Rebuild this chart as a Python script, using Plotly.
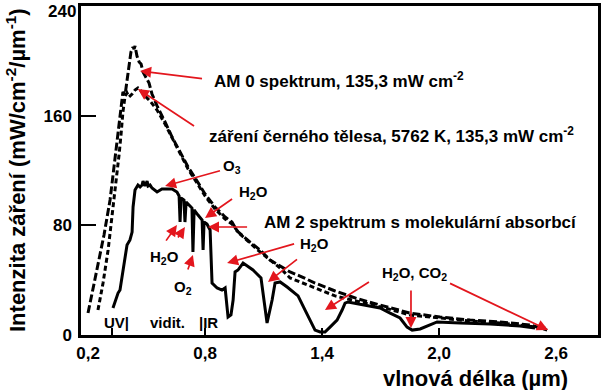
import plotly.graph_objects as go

# ---------------- data (wavelength in µm, intensity in mW/cm^2/µm) ----------------
am0_wl = [0.200, 0.241, 0.282, 0.313, 0.338, 0.359, 0.374, 0.379, 0.390, 0.400, 0.410, 0.420,
          0.431, 0.436, 0.441, 0.451, 0.462, 0.472, 0.482, 0.497, 0.513, 0.528, 0.554, 0.595,
          0.631, 0.672, 0.713, 0.759, 0.800, 0.851, 0.903, 0.938, 0.964, 1.031, 1.082, 1.133,
          1.185, 1.236, 1.287, 1.364, 1.467, 1.585, 1.697, 1.851, 2.005, 2.159, 2.313, 2.467, 2.554]
am0_val = [16.0, 43.8, 73.0, 98.5, 127.7, 153.2, 171.4, 177.3, 175.1, 186.0, 199.2, 206.4,
           210.1, 208.6, 210.8, 203.5, 199.2, 197.7, 191.9, 187.5, 183.8, 175.8, 167.1, 155.4,
           144.4, 133.5, 122.6, 112.3, 102.9, 93.4, 86.1, 82.4, 75.9, 67.8, 62.0, 54.7,
           50.3, 46.0, 43.0, 37.9, 32.1, 26.3, 21.9, 16.0, 13.1, 10.9, 9.5, 7.3, 3.6]

bb_wl = [0.251, 0.277, 0.303, 0.323, 0.344, 0.359, 0.369, 0.379, 0.390, 0.400, 0.410, 0.426,
         0.441, 0.456, 0.472, 0.492, 0.518, 0.554, 0.595, 0.631, 0.672, 0.713, 0.759, 0.800,
         0.851, 0.903, 0.938, 0.979, 1.082, 1.185, 1.236, 1.338, 1.467, 1.595, 1.723, 1.851,
         2.005, 2.159, 2.313, 2.467, 2.544]
bb_val = [18.2, 37.9, 62.0, 85.4, 111.6, 131.3, 145.9, 162.7, 174.4, 176.5, 173.6, 175.8,
          178.7, 180.2, 178.0, 174.4, 170.7, 164.1, 153.9, 143.7, 132.0, 121.1, 110.9, 101.4,
          91.9, 84.6, 81.0, 73.7, 60.6, 48.9, 41.6, 35.7, 28.5, 24.1, 19.7, 14.6,
          12.4, 10.2, 8.8, 6.6, 5.1]

am2_wl = [0.328, 0.354, 0.364, 0.390, 0.400, 0.415, 0.426, 0.431, 0.441, 0.456, 0.467, 0.477,
          0.482, 0.492, 0.503, 0.508, 0.518, 0.528, 0.544, 0.554, 0.579, 0.631, 0.656, 0.667,
          0.672, 0.677, 0.692, 0.697, 0.703, 0.718, 0.733, 0.738, 0.744, 0.764, 0.785, 0.790,
          0.795, 0.810, 0.826, 0.836, 0.862, 0.887, 0.903, 0.918, 0.933, 0.944, 0.954, 0.969,
          0.995, 1.046, 1.072, 1.087, 1.118, 1.144, 1.159, 1.185, 1.221, 1.251, 1.277, 1.313,
          1.364, 1.390, 1.415, 1.441, 1.477, 1.503, 1.518, 1.533, 1.610, 1.697, 1.749, 1.800,
          1.836, 1.862, 1.903, 1.990, 2.108, 2.262, 2.415, 2.492]
am2_val = [19.7, 30.6, 32.8, 56.2, 65.7, 69.3, 75.1, 93.4, 105.8, 109.4, 108.0, 109.4,
           112.3, 108.7, 112.3, 108.7, 109.4, 107.2, 105.8, 104.3, 106.5, 106.5, 104.3, 101.4,
           82.4, 100.0, 98.5, 82.4, 97.0, 94.8, 92.6, 60.6, 91.2, 87.5, 83.9, 62.0,
           82.4, 81.0, 76.6, 37.9, 34.3, 32.8, 34.3, 13.1, 14.6, 25.5, 46.0, 47.4,
           52.5, 47.4, 43.8, 41.6, 8.8, 25.5, 37.9, 38.7, 35.0, 31.4, 28.5, 18.2,
           3.6, 2.2, 2.2, 5.8, 10.9, 18.2, 23.3, 24.1, 21.9, 19.7, 16.0, 12.4,
           5.8, 3.6, 4.4, 9.5, 8.8, 8.0, 6.6, 5.1]

x_tick_vals = [0.2, 0.8, 1.4, 2.0, 2.6]
x_tick_text = ["0,2", "0,8", "1,4", "2,0", "2,6"]
x_mark_vals = [0.323, 0.8, 1.4, 2.0]
y_tick_vals = [0, 80, 160, 240]
y_tick_text = ["0", "80", "160", ""]   # the top label "240" is placed separately so it is not clipped
y_top_label = "240"

RED = "#e3161d"
FONT = "Liberation Sans, Arial, sans-serif"

fig = go.Figure()
fig.add_trace(go.Scatter(x=am0_wl, y=am0_val, mode="lines",
                         line=dict(color="black", width=3, dash="8px,3px"), showlegend=False))
fig.add_trace(go.Scatter(x=bb_wl, y=bb_val, mode="lines",
                         line=dict(color="black", width=3, dash="5px,3px"), showlegend=False))
fig.add_trace(go.Scatter(x=am2_wl, y=am2_val, mode="lines",
                         line=dict(color="black", width=3), showlegend=False))

# arrows: (head_x, head_y, tail_x, tail_y)
arrows = [
    (0.467, 192.6, 0.800, 186.8),
    (0.456, 179.5, 0.759, 151.0),
    (0.595, 108.7, 0.892, 120.4),
    (0.800, 85.4, 0.954, 100.7),
    (0.815, 78.8, 1.031, 78.8),
    (0.656, 80.2, 0.585, 65.7),
    (0.697, 78.8, 0.646, 67.8),
    (0.738, 58.4, 0.697, 41.6),
    (0.913, 52.5, 1.272, 67.1),
    (1.123, 38.7, 1.287, 56.9),
    (1.415, 18.2, 1.656, 40.1),
    (1.856, 5.1, 1.856, 38.7),
    (2.559, 3.6, 2.041, 38.7),
]
for hx, hy, tx, ty in arrows:
    fig.add_annotation(x=hx, y=hy, ax=tx, ay=ty, xref="x", yref="y", axref="x", ayref="y",
                       text=" ", showarrow=True, arrowhead=2, arrowsize=1.3, arrowwidth=1.7,
                       arrowcolor=RED, standoff=0, startstandoff=0)

labels = [
    (0.836, 186.0, "AM 0 spektrum, 135,3 mW cm<sup>-2</sup>", 17),
    (0.810, 146.0, "záření černého tělesa, 5762 K, 135,3 mW cm<sup>-2</sup>", 17),
    (0.882, 122.6, "O<sub>3</sub>", 15),
    (0.964, 103.6, "H<sub>2</sub>O", 15),
    (1.092, 82.4, "AM 2 spektrum s molekulární absorbcí", 17),
    (0.508, 56.9, "H<sub>2</sub>O", 15),
    (0.631, 35.0, "O<sub>2</sub>", 15),
    (1.277, 65.7, "H<sub>2</sub>O", 15),
    (1.697, 45.2, "H<sub>2</sub>O, CO<sub>2</sub>", 15),
    (0.272, 8.8, "UV|", 15),
    (0.508, 8.8, "vidit.", 15),
    (0.759, 8.8, "|IR", 15),
]
for lx, ly, txt, sz in labels:
    fig.add_annotation(x=lx, y=ly, xref="x", yref="y", text=txt, showarrow=False,
                       xanchor="left", yanchor="middle",
                       font=dict(family=FONT, size=sz, color="black", weight="bold"))

W, H = 601, 390
ML, MR, MT, MB = 81, 3, 6, 55
PW, PH = W - ML - MR, H - MT - MB

# top y tick label, kept inside the page
fig.add_annotation(x=(78 - ML) / PW, y=(H - MB - 0) / PH, xref="paper", yref="paper",
                   text=y_top_label, showarrow=False, xanchor="right", yanchor="top",
                   font=dict(family=FONT, size=17, color="black", weight="bold"))

# axis titles (placed in paper coordinates)
fig.add_annotation(x=(475 - ML) / PW, y=(H - MB - 378) / PH, xref="paper", yref="paper",
                   text="vlnová délka (µm)",
                   showarrow=False, xanchor="center", yanchor="middle",
                   font=dict(family=FONT, size=22, color="black", weight="bold"))
fig.add_annotation(x=(16 - ML) / PW, y=(H - MB - 170) / PH, xref="paper", yref="paper",
                   text="Intenzita záření (mW/cm<sup>-2</sup>/µm<sup>-1</sup>)",
                   textangle=-90, showarrow=False, xanchor="center", yanchor="middle",
                   font=dict(family=FONT, size=22, color="black", weight="bold"))

XR = [0.164, 2.815]
fig.update_layout(
    width=W, height=H, margin=dict(l=ML, r=MR, t=MT, b=MB, autoexpand=False),
    paper_bgcolor="white", plot_bgcolor="white",
    font=dict(family=FONT, color="black", weight="bold"),
    xaxis=dict(range=XR, tickvals=x_tick_vals, ticktext=x_tick_text, ticks="",
               showgrid=False, zeroline=False, showline=True, linecolor="black", linewidth=2.5,
               mirror=True, automargin=False, ticklabeloverflow="allow",
               tickfont=dict(family=FONT, size=17, color="black", weight="bold"),
               ticklabelstandoff=1),
    xaxis2=dict(range=XR, overlaying="x", anchor="y", side="bottom", tickvals=x_mark_vals,
                ticks="inside", ticklen=7, tickwidth=1.5, tickcolor="black", automargin=False,
                showticklabels=False, showgrid=False, zeroline=False, showline=False),
    yaxis=dict(range=[0, 240], tickvals=y_tick_vals, ticktext=y_tick_text, ticks="inside",
               ticklen=15, tickwidth=2,
               tickcolor="black", showgrid=False, zeroline=False, showline=True,
               linecolor="black", linewidth=2.5, mirror=True, automargin=False,
               ticklabeloverflow="allow",
               tickfont=dict(family=FONT, size=17, color="black", weight="bold"),
               ticklabelstandoff=3),
)
# invisible helper trace so that the tick-mark axis is drawn
fig.add_trace(go.Scatter(x=[XR[0]], y=[0], xaxis="x2", mode="markers",
                         marker=dict(opacity=0), showlegend=False, hoverinfo="skip"))

fig.write_html("out.html", config={"displayModeBar": False},
               post_script="document.body.style.margin='0';document.body.style.padding='0';")
